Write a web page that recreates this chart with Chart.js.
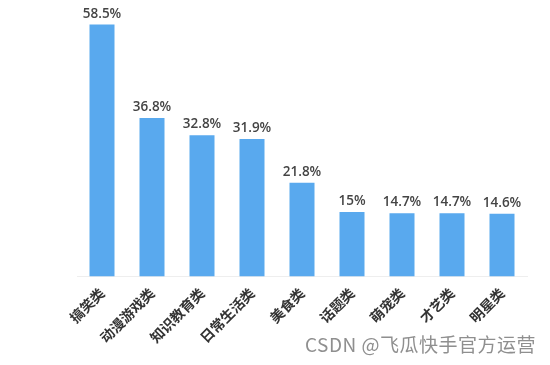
<!DOCTYPE html>
<html>
<head>
<meta charset="utf-8">
<script src="https://cdn.jsdelivr.net/npm/chart.js@4"></script>
<style>
  html,body{margin:0;padding:0;background:#fff;}
  #wrap{position:relative;width:550px;height:365px;}
  #wm{position:absolute;left:305px;top:333px;font:19px/22px 'Noto Sans CJK SC','Noto Sans',sans-serif;letter-spacing:0.5px;color:#8f8f8f;white-space:nowrap;}
</style>
</head>
<body>
<div id="wrap">
  <canvas id="ch" width="550" height="365"></canvas>
  <div id="wm">CSDN @飞瓜快手官方运营</div>
</div>
<script>
// datos
const categorias = ['搞笑类','动漫游戏类','知识教育类','日常生活类','美食类','话题类','萌宠类','才艺类','明星类'];
const valores = [58.5, 36.8, 32.8, 31.9, 21.8, 15, 14.7, 14.7, 14.6];

// etiquetas encima de cada barra
const labelsPlugin = {
  id:'barLabels',
  afterDatasetsDraw(chart){
    const {ctx} = chart;
    const meta = chart.getDatasetMeta(0);
    ctx.save();
    ctx.fillStyle = '#444';
    ctx.font = "600 13.5px 'Open Sans','Noto Sans',sans-serif";
    ctx.textAlign = 'center';
    ctx.textBaseline = 'bottom';
    meta.data.forEach((bar,i)=>{
      ctx.fillText(valores[i]+'%', bar.x, bar.y-4);
    });
    ctx.restore();
  }
};

new Chart(document.getElementById('ch'), {
  type:'bar',
  data:{
    labels:categorias,
    datasets:[{
      data:valores,
      backgroundColor:'#59a9ee',
      barPercentage:0.5, categoryPercentage:1
    }]
  },
  options:{
    responsive:false, animation:false,
    layout:{padding:{left:77,right:23,top:18,bottom:16}},
    plugins:{legend:{display:false},tooltip:{enabled:false}},
    scales:{
      y:{display:false,min:0,max:60},
      x:{
        grid:{display:false,drawTicks:true,tickLength:5,color:'#ccc'},
        border:{color:'#eeeeee'},
        ticks:{
          minRotation:45,maxRotation:45,autoSkip:false,
          color:'#333',padding:3,
          font:{family:"'Noto Sans CJK SC',sans-serif",size:14,weight:'bold'}
        }
      }
    }
  },
  plugins:[labelsPlugin]
});
</script>
</body>
</html>
